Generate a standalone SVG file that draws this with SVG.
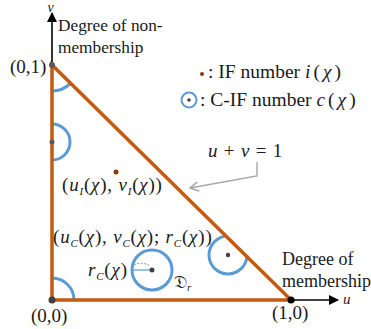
<svg xmlns="http://www.w3.org/2000/svg" width="371" height="329" viewBox="0 0 371 329">
<style>
text{font-family:'Liberation Serif',serif;fill:#1a1a1a}
.i{font-style:italic}
.math{font-size:19px;letter-spacing:0.8px}
.sub{font-size:11px;font-style:italic}
.blue{fill:none;stroke:#5b9bd5;stroke-width:3}
.tri{fill:none;stroke:#c55a11;stroke-width:3.5;stroke-linejoin:miter}
.axis{stroke:#000;stroke-width:1.6;fill:none}
.lead{stroke:#a6a6a6;stroke-width:1.4;fill:none}
</style>
<defs>
<clipPath id="triClip"><polygon points="52,65 52,300 291,300"/></clipPath>
<marker id="ah" viewBox="0 0 10 10" refX="9" refY="5" markerWidth="10" markerHeight="10" markerUnits="userSpaceOnUse" orient="auto"><path d="M0,0 L10,5 L0,10 Z" fill="#000"/></marker>
<marker id="oh" viewBox="0 0 10 10" refX="9" refY="5" markerWidth="10" markerHeight="10" markerUnits="userSpaceOnUse" orient="auto"><path d="M0,0 L9,5 L0,10" fill="none" stroke="#a6a6a6" stroke-width="1.6"/></marker>
</defs>

<g id="axes">
<line class="axis" x1="52" y1="65" x2="52" y2="13" marker-end="url(#ah)"/>
<line class="axis" x1="291" y1="300" x2="338" y2="300" marker-end="url(#ah)"/>
<text class="i" x="47.5" y="12" font-size="14">v</text>
<text class="i" x="343" y="304" font-size="15">u</text>
</g>

<g id="disks" clip-path="url(#triClip)">
<circle class="blue" cx="52" cy="65" r="26"/>
<circle class="blue" cx="52" cy="142" r="18"/>
<circle class="blue" cx="52" cy="300" r="22"/>
<circle class="blue" cx="228" cy="255" r="19"/>
</g>
<g id="disk-inner">
<circle class="blue" cx="152" cy="270" r="20"/>
<line x1="131" y1="270" x2="152" y2="270" stroke="#5b9bd5" stroke-width="1.2"/>
<path d="M131,267 Q140,260 150,266" fill="none" stroke="#5b9bd5" stroke-width="1" stroke-dasharray="2,1.5"/>
</g>

<g id="triangle">
<polygon class="tri" points="52,65 52,300 291,300"/>
</g>

<g id="dots">
<circle cx="52" cy="65" r="3" fill="#595959"/>
<circle cx="52" cy="300" r="3.5" fill="#404040"/>
<circle cx="291" cy="300" r="3.5" fill="#000"/>
<circle cx="52" cy="142" r="2.5" fill="#595959"/>
<circle cx="152" cy="270" r="2.5" fill="#404040"/>
<circle cx="228" cy="255" r="2.2" fill="#404040"/>
<circle cx="116" cy="172" r="2.5" fill="#843c0c"/>
</g>

<g id="connectors">
<polyline class="lead" points="257,162 257,176 190,188" marker-end="url(#oh)"/>
</g>

<g id="labels" font-size="17.3">
<text x="58" y="31">Degree of non-</text>
<text x="58" y="53">membership</text>
<text x="10" y="73" font-size="19">(0,1)</text>
<text x="31" y="322" font-size="19">(0,0)</text>
<text x="272" y="319" font-size="19">(1,0)</text>
<text x="282" y="265" font-size="18">Degree of</text>
<text x="282" y="287" font-size="18">membership</text>
<text class="math" x="208" y="157"><tspan class="i">u</tspan> + <tspan class="i">v</tspan> = 1</text>
<text class="math" x="62" y="191">(<tspan class="i">u</tspan><tspan class="sub" dy="4">I</tspan><tspan dy="-4">(</tspan><tspan class="i">χ</tspan>), <tspan class="i">v</tspan><tspan class="sub" dy="4">I</tspan><tspan dy="-4">(</tspan><tspan class="i">χ</tspan>))</text>
<text class="math" x="53" y="243" letter-spacing="0.6">(<tspan class="i">u</tspan><tspan class="sub" dy="4">C</tspan><tspan dy="-4">(</tspan><tspan class="i">χ</tspan>), <tspan class="i">v</tspan><tspan class="sub" dy="4">C</tspan><tspan dy="-4">(</tspan><tspan class="i">χ</tspan>); <tspan class="i">r</tspan><tspan class="sub" dy="4">C</tspan><tspan dy="-4">(</tspan><tspan class="i">χ</tspan>))</text>
<text class="math" x="88" y="276"><tspan class="i">r</tspan><tspan class="sub" dy="4">C</tspan><tspan dy="-4">(</tspan><tspan class="i">χ</tspan>)</text>
<text x="174" y="288" font-size="18" style="font-family:'DejaVu Serif','Noto Sans',serif">𝔇<tspan class="sub" dy="3" style="font-family:'Liberation Serif',serif">r</tspan></text>
</g>

<g id="legend" font-size="19.5">
<circle cx="202" cy="74" r="2" fill="#843c0c"/>
<text x="208" y="78">: IF number <tspan class="i" letter-spacing="3">i</tspan><tspan letter-spacing="3">(</tspan><tspan class="i" letter-spacing="3">χ</tspan>)</text>
<circle cx="189" cy="100" r="7.5" fill="none" stroke="#5b9bd5" stroke-width="2"/>
<circle cx="189" cy="100" r="1.8" fill="#404040"/>
<text x="200" y="106">: C-IF number <tspan class="i" letter-spacing="3">c</tspan><tspan letter-spacing="3">(</tspan><tspan class="i" letter-spacing="3">χ</tspan>)</text>
</g>
</svg>
